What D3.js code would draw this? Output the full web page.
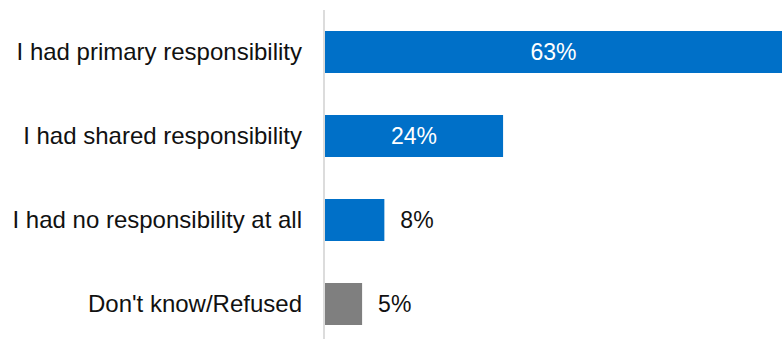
<!DOCTYPE html>
<html>
<head>
<meta charset="utf-8">
<script src="https://cdn.jsdelivr.net/npm/d3@7"></script>
<style>
  html, body { margin: 0; padding: 0; background: #fff; }
  svg { display: block; }
  text { font-family: "Liberation Sans", Arial, sans-serif; }
</style>
</head>
<body>
<svg id="chart" width="782" height="339"></svg>
<script>
// Responses to: who had responsibility
const categories = [
  "I had primary responsibility",
  "I had shared responsibility",
  "I had no responsibility at all",
  "Don't know/Refused"
];
const values = [63, 24, 8, 5];
const barColors = ["#0070C8", "#0070C8", "#0070C8", "#7F7F7F"];
const valueLabels = ["63%", "24%", "8%", "5%"];

const width = 782, height = 339;
const axisX = 324;

const svg = d3.select("#chart");

const y = d3.scaleBand()
  .domain(categories)
  .range([10, 346])
  .paddingInner(0.5)
  .paddingOuter(0.25);

const x = d3.scaleLinear()
  .domain([0, 63])
  .range([axisX + 1, axisX + 1 + 7.42 * 63]);

// Bars
svg.selectAll("rect.bar")
  .data(values)
  .join("rect")
  .attr("class", "bar")
  .attr("x", x(0))
  .attr("y", (d, i) => y(categories[i]))
  .attr("width", d => x(d) - x(0))
  .attr("height", y.bandwidth())
  .attr("fill", (d, i) => barColors[i]);

// Vertical category axis line
svg.append("line")
  .attr("x1", axisX).attr("x2", axisX)
  .attr("y1", 10).attr("y2", height)
  .attr("stroke", "#d0d0d0")
  .attr("stroke-width", 1.5);

// Category labels
svg.selectAll("text.cat")
  .data(categories)
  .join("text")
  .attr("class", "cat")
  .attr("x", 302)
  .attr("y", d => y(d) + y.bandwidth() / 2)
  .attr("dy", "0.35em")
  .attr("text-anchor", "end")
  .attr("font-size", 24)
  .attr("fill", "#111111")
  .text(d => d);

// Value labels: inside wide bars, outside short ones
svg.selectAll("text.val")
  .data(values)
  .join("text")
  .attr("class", "val")
  .attr("x", (d, i) => {
    if (d >= 20) {
      const end = Math.min(x(d), width);
      return (x(0) + end) / 2;
    }
    return x(d) + 16;
  })
  .attr("y", (d, i) => y(categories[i]) + y.bandwidth() / 2)
  .attr("dy", "0.35em")
  .attr("text-anchor", d => d >= 20 ? "middle" : "start")
  .attr("font-size", 23)
  .attr("fill", d => d >= 20 ? "#ffffff" : "#111111")
  .text((d, i) => valueLabels[i]);
</script>
</body>
</html>
